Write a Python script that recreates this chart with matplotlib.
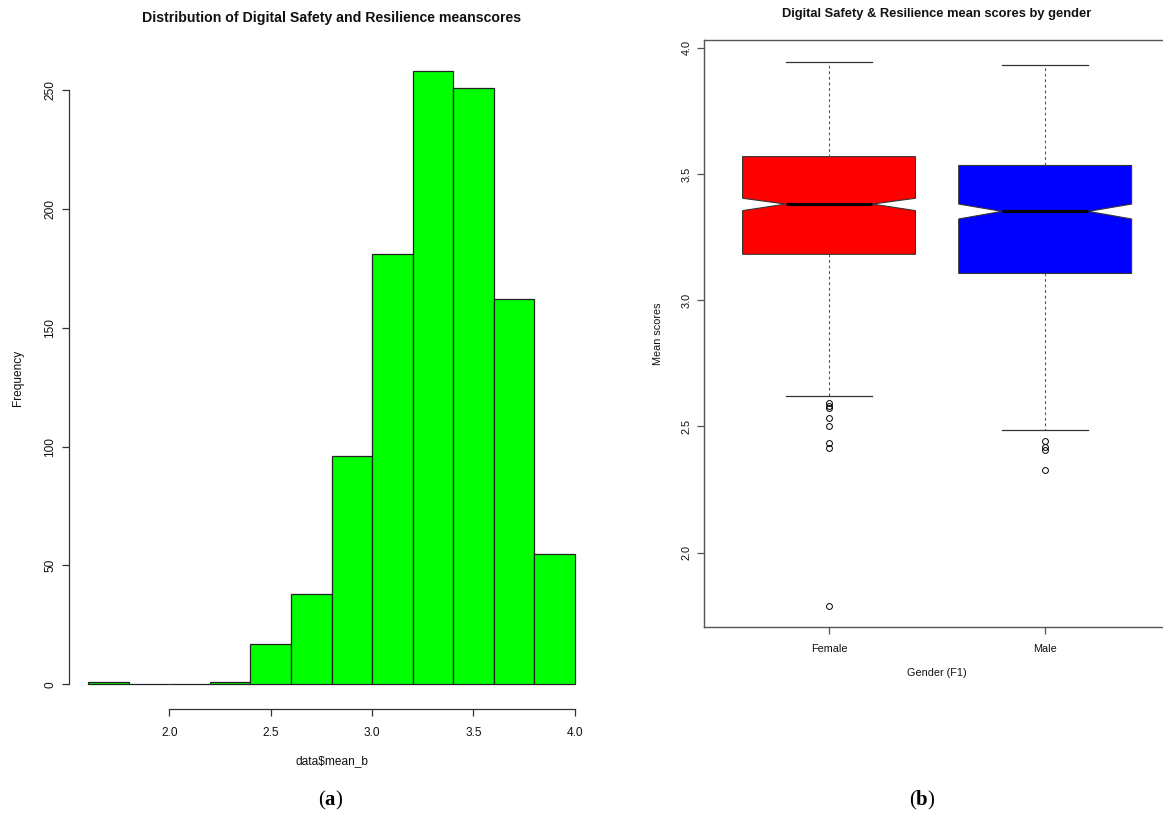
import numpy as np
import matplotlib
matplotlib.use('Agg')
import matplotlib.pyplot as plt

plt.rcParams['font.family'] = ['Liberation Sans', 'DejaVu Sans']
plt.rcParams['mathtext.fontset'] = 'custom'
plt.rcParams['mathtext.bf'] = 'Liberation Serif:bold'
plt.rcParams['mathtext.rm'] = 'Liberation Serif'

# ---------------- data: histogram (a) ----------------
bin_edges = [1.6, 1.8, 2.0, 2.2, 2.4, 2.6, 2.8, 3.0, 3.2, 3.4, 3.6, 3.8, 4.0]
counts = [1, 0, 0, 1, 17, 38, 96, 181, 258, 251, 162, 55]
hist_x_ticks = [2.0, 2.5, 3.0, 3.5, 4.0]
hist_y_ticks = [0, 50, 100, 150, 200, 250]

# ---------------- data: boxplot (b) ----------------
groups = ['Female', 'Male']
box_colors = ['#FF0000', '#0000FF']
q1_vals = [3.182, 3.106]
med_vals = [3.381, 3.352]
q3_vals = [3.569, 3.534]
whislo_vals = [2.620, 2.485]
whishi_vals = [3.945, 3.934]
cilo_vals = [3.355, 3.322]
cihi_vals = [3.404, 3.381]
fliers_female = [2.591, 2.580, 2.573, 2.534, 2.501, 2.433, 2.413, 1.790]
fliers_male = [2.441, 2.418, 2.405, 2.326]
box_y_ticks = [2.0, 2.5, 3.0, 3.5, 4.0]

W, H = 1163, 814
fig = plt.figure(figsize=(W / 100, H / 100), dpi=100)
axis_col = '#333333'

# ================= panel (a) =================
ax1 = fig.add_axes([68.8 / W, 1 - 708.8 / H, (594.2 - 68.8) / W, (708.8 - 46.5) / H])
edges = np.array(bin_edges)
ax1.bar(edges[:-1], counts, width=np.diff(edges), align='edge',
        color='#00FF00', edgecolor='#222222', linewidth=0.9)
xr = edges[-1] - edges[0]
ax1.set_xlim(edges[0] - 0.04 * xr, edges[-1] + 0.04 * xr)
ymax = max(counts)
ax1.set_ylim(-0.04 * ymax, ymax * 1.04)
for s in ['top', 'right']:
    ax1.spines[s].set_visible(False)
ax1.spines['left'].set_bounds(hist_y_ticks[0], hist_y_ticks[-1])
ax1.spines['bottom'].set_bounds(hist_x_ticks[0], hist_x_ticks[-1])
for s in ['left', 'bottom']:
    ax1.spines[s].set_color(axis_col)
    ax1.spines[s].set_linewidth(0.9)
ax1.set_xticks(hist_x_ticks)
ax1.set_xticklabels([f'{v:.1f}' for v in hist_x_ticks])
ax1.set_yticks(hist_y_ticks)
ax1.set_yticklabels([str(v) for v in hist_y_ticks])
ax1.tick_params(axis='both', direction='out', length=5, width=0.9, color=axis_col,
                labelsize=8.6, labelcolor='#111111')
ax1.tick_params(axis='x', pad=8)
ax1.tick_params(axis='y', labelrotation=90, pad=4)
for lab in ax1.get_yticklabels():
    lab.set_va('center')

fig.text(331.5 / W, 1 - 18 / H, 'Distribution of Digital Safety and Resilience meanscores',
         ha='center', va='center', fontsize=10.2, fontweight='bold', color='#111111')
fig.text(18 / W, 1 - 377.6 / H, 'Frequency', rotation=90, ha='center', va='center',
         fontsize=8.6, color='#111111')
fig.text(331.5 / W, 1 - 761 / H, 'data$mean_b', ha='center', va='center',
         fontsize=8.6, color='#111111')

# ================= panel (b) =================
ax2 = fig.add_axes([703.7 / W, 1 - 627.3 / H, (1170.5 - 703.7) / W, (627.3 - 40) / H])
fliers_all = [fliers_female, fliers_male]
stats = []
for i, g in enumerate(groups):
    stats.append(dict(label=g, med=med_vals[i], q1=q1_vals[i], q3=q3_vals[i],
                      whislo=whislo_vals[i], whishi=whishi_vals[i],
                      cilo=cilo_vals[i], cihi=cihi_vals[i], fliers=fliers_all[i]))
bp = ax2.bxp(stats, positions=[1, 2], widths=0.8, patch_artist=True, shownotches=True,
             boxprops=dict(edgecolor='#333333', linewidth=0.8),
             whiskerprops=dict(color='#555555', linewidth=0.8, linestyle=(0, (2.5, 2.5))),
             capprops=dict(color='#333333', linewidth=0.9),
             medianprops=dict(color='black', linewidth=2.2),
             flierprops=dict(marker='o', markerfacecolor='none', markeredgecolor='black',
                             markersize=4.2, markeredgewidth=0.7, linestyle='none'))
for patch, c in zip(bp['boxes'], box_colors):
    patch.set_facecolor(c)

ax2.set_xlim(0.5 - 0.04 * 2, 2.5 + 0.04 * 2)
all_lo = min(min(fliers_female), min(fliers_male), min(whislo_vals))
all_hi = max(whishi_vals)
rr = all_hi - all_lo
ax2.set_ylim(all_lo - 0.04 * rr, all_hi + 0.04 * rr)
ax2.set_xticks([1, 2])
ax2.set_xticklabels(groups)
ax2.set_yticks(box_y_ticks)
ax2.set_yticklabels([f'{v:.1f}' for v in box_y_ticks])
for s in ax2.spines.values():
    s.set_color('#555555')
    s.set_linewidth(1.0)
ax2.tick_params(axis='both', direction='out', length=5, width=0.9, color='#555555',
                labelsize=7.8, labelcolor='#111111')
ax2.tick_params(axis='x', pad=7)
ax2.tick_params(axis='y', labelrotation=90, pad=3.5)
for lab in ax2.get_yticklabels():
    lab.set_va('center')

fig.text(937 / W, 1 - 14 / H, 'Digital Safety & Resilience mean scores by gender',
         ha='center', va='center', fontsize=9.3, fontweight='bold', color='#111111')
fig.text(658 / W, 1 - 333.6 / H, 'Mean scores', rotation=90, ha='center', va='center',
         fontsize=7.8, color='#111111')
fig.text(937 / W, 1 - 673.3 / H, 'Gender (F1)', ha='center', va='center',
         fontsize=7.8, color='#111111')

# ================= captions =================
fig.text(331 / W, 1 - 800 / H, r'($\mathbf{a}$)', ha='center', va='center',
         fontsize=15, family='Liberation Serif')
fig.text(922 / W, 1 - 800 / H, r'($\mathbf{b}$)', ha='center', va='center',
         fontsize=15, family='Liberation Serif')

fig.savefig('out.png', dpi=100)
